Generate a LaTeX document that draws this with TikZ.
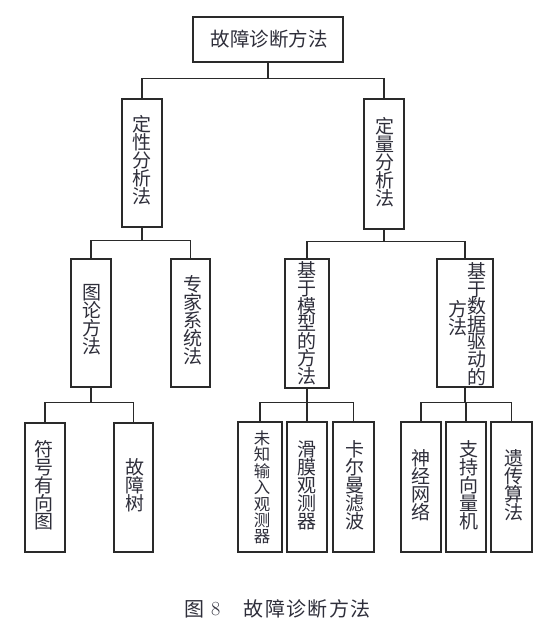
\documentclass[tikz,border=0pt]{standalone}
\usepackage{fontspec}
\newfontfamily\cjk{Noto Sans CJK SC}
\definecolor{ink}{HTML}{2A2A2A}
\definecolor{txt}{HTML}{2E2E3A}
\newcommand\fbx[5]{\node[frame, minimum width=#4pt, minimum height=#5pt] (#1) at (#2,#3) {};}
\begin{document}
\begin{tikzpicture}[x=1pt,y=-1pt,
  frame/.style={draw=ink, line width=1.3pt, inner sep=0pt},
  conn/.style={draw=ink, line width=1.3pt},
  vt/.style={font=\cjk\fontsize{19}{18}\selectfont, text=txt, align=center, inner sep=0pt},
  vtn/.style={font=\cjk\fontsize{19}{17.6}\selectfont, text=txt, align=center, inner sep=0pt},
  vtt/.style={font=\cjk\fontsize{16.4}{16.4}\selectfont, text=txt, align=center, inner sep=0pt},
  ht/.style={font=\cjk\fontsize{19.5}{22}\selectfont, text=txt, inner sep=0pt}]
\useasboundingbox (0,0) rectangle (558,627);
% boxes
\fbx{root}{268}{39.5}{150}{45}
\fbx{q1}{142}{163}{40}{128}
\fbx{q2}{384}{164}{40}{130}
\fbx{a1}{91}{323}{40}{128}
\fbx{a2}{190.5}{323}{39}{128}
\fbx{b1}{307}{323.5}{44}{129}
\fbx{b2}{465}{323}{56}{128}
\fbx{c1}{45}{487.5}{40}{129}
\fbx{c2}{133.5}{487.5}{39}{129}
\fbx{d1}{260}{487}{44}{130}
\fbx{d2}{307}{487}{40}{130}
\fbx{d3}{353.5}{487}{41}{130}
\fbx{e1}{421}{487}{40}{130}
\fbx{e2}{466}{487}{40}{130}
\fbx{e3}{511.5}{487}{41}{130}
% texts
\node[ht] (roott) at (269,39) {故障诊断方法};
\node[vt] (q1t) at (142,160) {定\\性\\分\\析\\法};
\node[vt] (q2t) at (385,162) {定\\量\\分\\析\\法};
\node[vt] (a1t) at (92,320) {图\\论\\方\\法};
\node[vt] (a2t) at (193,320.5) {专\\家\\系\\统\\法};
\node[vtn] (b1t) at (306.5,323.5) {基\\于\\模\\型\\的\\方\\法};
\node[vtn] (b2t) at (477,324) {基\\于\\数\\据\\驱\\动\\的};
\node[vtn] (b2s) at (458,318) {方\\法};
\node[vt] (c1t) at (44,485) {符\\号\\有\\向\\图};
\node[vt] (c2t) at (135,485) {故\\障\\树};
\node[vtt] (d1t) at (262,487.5) {未\\知\\输\\入\\观\\测\\器};
\node[vt] (d2t) at (307,485) {滑\\膜\\观\\测\\器};
\node[vt] (d3t) at (355,485) {卡\\尔\\曼\\滤\\波};
\node[vt] (e1t) at (421,485) {神\\经\\网\\络};
\node[vt] (e2t) at (468.5,485) {支\\持\\向\\量\\机};
\node[vt] (e3t) at (514,485) {遗\\传\\算\\法};
% caption
\node[font=\cjk\fontsize{20}{22}\selectfont, text=txt, inner sep=0pt, anchor=west] (cap1) at (184,609) {图};
\node[font=\fontsize{20}{22}\selectfont, text=txt, inner sep=0pt, anchor=west] (cap2) at (211,609.5) {8};
\node[font=\cjk\fontsize{20}{22}\selectfont, text=txt, inner sep=0pt, anchor=west] (cap3) at (243.5,609)
  {故\kern1.4pt 障\kern1.4pt 诊\kern1.4pt 断\kern1.4pt 方\kern1.4pt 法};
% connectors
\path (root.south) ++(0,16) coordinate (j1);
\draw[conn] (root.south) -- (j1);
\draw[conn] (q1.north) |- (j1) -| (q2.north);
\path (q1.south) ++(0,13) coordinate (j2);
\draw[conn] (q1.south) -- (j2);
\draw[conn] (a1.north) |- (j2) -| (a2.north);
\path (q2.south) ++(0,12) coordinate (j3);
\draw[conn] (q2.south) -- (j3);
\draw[conn] (b1.north) |- (j3) -| (b2.north);
\path (a1.south) ++(0,15) coordinate (j4);
\draw[conn] (a1.south) -- (j4);
\draw[conn] (c1.north) |- (j4) -| (c2.north);
\path (b1.south) ++(0,14) coordinate (j5);
\draw[conn] (b1.south) -- (j5);
\draw[conn] (d1.north) |- (j5) -| (d3.north);
\draw[conn] (d2.north) -- (d2.north |- j5);
\path (b2.south) ++(0,15) coordinate (j6);
\draw[conn] (b2.south) -- (j6);
\draw[conn] (e1.north) |- (j6) -| (e3.north);
\draw[conn] (e2.north) -- (e2.north |- j6);
\end{tikzpicture}
\end{document}
